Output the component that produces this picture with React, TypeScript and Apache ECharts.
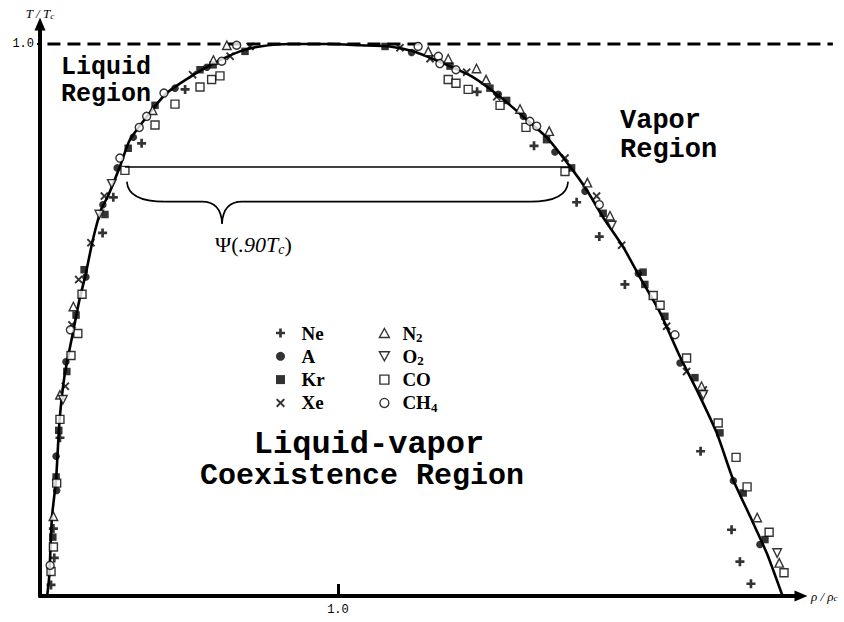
import React, { useEffect, useRef } from 'react';
import * as echarts from 'echarts';

// Axis ranges (rho / rho_c , T / T_c)
const X_MIN = 0;
const X_MAX = 2.554;
const Y_MIN = 0.55;
const Y_MAX = 1.0163;
const X_TICKS = [1.0];
const Y_TICKS = [1.0];

// Smooth coexistence curve [rho/rho_c, T/T_c]
const CURVE: number[][] = [
  [0.024, 0.55], [0.031, 0.566], [0.04, 0.614], [0.054, 0.645], [0.065, 0.691], [0.082, 0.729],
  [0.11, 0.764], [0.132, 0.791], [0.154, 0.813], [0.177, 0.84], [0.205, 0.865], [0.228, 0.876],
  [0.268, 0.9], [0.302, 0.922], [0.369, 0.944], [0.425, 0.96], [0.503, 0.973], [0.581, 0.984],
  [0.671, 0.994], [0.738, 0.998], [0.839, 1.0], [0.973, 1.0], [1.074, 0.999], [1.174, 0.998],
  [1.252, 0.994], [1.365, 0.983], [1.453, 0.973], [1.544, 0.957], [1.621, 0.941], [1.7, 0.924],
  [1.779, 0.9], [1.835, 0.881], [1.889, 0.859], [1.956, 0.835], [2.013, 0.81], [2.081, 0.781],
  [2.148, 0.745], [2.204, 0.718], [2.271, 0.683], [2.326, 0.645], [2.383, 0.615], [2.439, 0.585],
  [2.492, 0.55],
];

// Experimental points per substance
const NE: number[][] = [
  [0.246, 0.875], [0.21, 0.846], [0.067, 0.679], [0.045, 0.605], [0.048, 0.581], [0.037, 0.559],
  [0.341, 0.919], [0.487, 0.963], [1.467, 0.961], [1.658, 0.917], [1.801, 0.871], [1.877, 0.843],
  [1.963, 0.804], [2.217, 0.668], [2.321, 0.604], [2.349, 0.578], [2.386, 0.56],
];
const AR: number[][] = [
  [0.211, 0.869], [0.154, 0.81], [0.087, 0.741], [0.054, 0.664], [0.056, 0.636], [0.259, 0.899],
  [0.313, 0.924], [0.453, 0.964], [0.56, 0.981], [1.247, 0.993], [1.538, 0.959], [1.622, 0.941],
  [1.728, 0.912], [1.829, 0.88], [2.008, 0.813], [2.148, 0.74], [2.327, 0.644], [2.416, 0.592],
];
const KR: number[][] = [
  [0.218, 0.861], [0.148, 0.816], [0.121, 0.779], [0.09, 0.733], [0.063, 0.685], [0.054, 0.647],
  [0.043, 0.598], [0.296, 0.915], [0.386, 0.95], [0.537, 0.979], [0.581, 0.983], [0.688, 0.994],
  [1.158, 0.998], [1.376, 0.982], [1.51, 0.964], [1.566, 0.954], [1.7, 0.922], [1.784, 0.899],
  [1.89, 0.862], [2.024, 0.814], [2.03, 0.804], [2.097, 0.778], [2.198, 0.728], [2.282, 0.683],
  [2.36, 0.634], [2.433, 0.596],
];
const XE: number[][] = [
  [0.216, 0.876], [0.171, 0.838], [0.13, 0.808], [0.107, 0.771], [0.085, 0.721], [0.512, 0.975],
  [0.638, 0.99], [0.705, 0.998], [1.208, 0.997], [1.309, 0.988], [1.432, 0.977], [1.533, 0.957],
  [1.762, 0.907], [1.868, 0.876], [1.952, 0.836], [2.103, 0.77], [2.17, 0.733], [2.226, 0.718],
];
const N2: number[][] = [
  [0.112, 0.786], [0.067, 0.714], [0.045, 0.615], [0.378, 0.946], [0.582, 0.987], [0.627, 0.999],
  [1.303, 0.994], [1.37, 0.988], [1.465, 0.98], [1.497, 0.971], [1.611, 0.947], [1.709, 0.929],
  [1.837, 0.887], [1.913, 0.86], [2.22, 0.721], [2.407, 0.614], [2.481, 0.577],
];
const O2: number[][] = [
  [0.199, 0.861], [0.241, 0.886], [0.077, 0.71], [1.919, 0.852], [2.226, 0.714], [2.474, 0.585],
];
const CO: number[][] = [
  [0.141, 0.796], [0.127, 0.764], [0.104, 0.746], [0.067, 0.694], [0.056, 0.642], [0.045, 0.59],
  [0.037, 0.57], [0.285, 0.897], [0.386, 0.934], [0.453, 0.951], [0.537, 0.965], [0.576, 0.971],
  [0.604, 0.974], [1.37, 0.971], [1.396, 0.968], [1.437, 0.963], [1.544, 0.95], [1.631, 0.932],
  [1.762, 0.896], [2.058, 0.795], [2.081, 0.787], [2.17, 0.744], [2.276, 0.691], [2.336, 0.663],
  [2.373, 0.639], [2.447, 0.602], [2.497, 0.569],
];
const CH4: number[][] = [
  [0.102, 0.767], [0.034, 0.575], [0.268, 0.907], [0.333, 0.932], [0.358, 0.941], [0.416, 0.96],
  [0.61, 0.986], [0.66, 0.999], [1.269, 0.998], [1.337, 0.99], [1.342, 0.984], [1.396, 0.979],
  [1.644, 0.937], [1.667, 0.933], [1.877, 0.869], [2.131, 0.763],
];

const LEGEND_LEFT = ['Ne', 'A', 'Kr', 'Xe'];
const LEGEND_RIGHT = ['N2', 'O2', 'CO', 'CH4'];

// Reference lines / annotation anchors (data coordinates)
const DASH_T = 1.0;
const DASH_FROM = 0.025;
const DASH_TO = 2.661;
const PSI_T = 0.9;
const PSI_FROM = 0.285;
const PSI_TO = 1.779;
const PSI_TIP = 0.611;

const PLUS = 'path://M3.5,0H6.5V3.5H10V6.5H6.5V10H3.5V6.5H0V3.5H3.5Z';
const CROSS = 'path://M0,1.6L1.6,0L5,3.4L8.4,0L10,1.6L6.6,5L10,8.4L8.4,10L5,6.6L1.6,10L0,8.4L3.4,5Z';
const DOWN_TRI = 'path://M0,0L10,0L5,9Z';
const UP_TRI = 'path://M5,0L10,9L0,9Z';
const SQUARE = 'path://M0,0H10V10H0Z';

const SERIF = '"Liberation Serif", "Times New Roman", serif';
const MONO = '"Liberation Mono", "Courier New", monospace';

const filled = { color: '#000' };
const hollow = { color: '#fff', borderColor: '#000', borderWidth: 1.4 };

const SPECIES = [
  { name: 'Ne', data: NE, symbol: PLUS, size: 9, style: filled },
  { name: 'A', data: AR, symbol: 'circle', size: 7.5, style: filled },
  { name: 'Kr', data: KR, symbol: SQUARE, size: 7.5, style: filled },
  { name: 'Xe', data: XE, symbol: CROSS, size: 8.5, style: filled },
  { name: 'N2', data: N2, symbol: UP_TRI, size: 8.5, style: hollow },
  { name: 'O2', data: O2, symbol: DOWN_TRI, size: 8.5, style: hollow },
  { name: 'CO', data: CO, symbol: SQUARE, size: 8, style: hollow },
  { name: 'CH4', data: CH4, symbol: 'circle', size: 8, style: hollow },
];

const legendText = {
  fontFamily: SERIF,
  fontWeight: 'bold',
  fontSize: 19,
  color: '#000',
  lineHeight: 22,
  rich: {
    s: { fontFamily: SERIF, fontWeight: 'bold', fontSize: 13, lineHeight: 10, verticalAlign: 'bottom', color: '#000' },
  },
};
const legendFormatter = (name: string) => name.replace(/(\d)/, '{s|$1}');

function buildOption() {
  return {
    animation: false,
    backgroundColor: '#fff',
    grid: { left: 40, right: 43, top: 24, bottom: 26, containLabel: false, outerBoundsMode: 'none' },
    xAxis: {
      type: 'value',
      min: X_MIN,
      max: X_MAX,
      name: 'ρ / ρ{s|c}',
      nameLocation: 'end',
      nameGap: 10,
      nameTextStyle: {
        fontFamily: SERIF, fontStyle: 'italic', fontSize: 13, color: '#000',
        rich: { s: { fontFamily: SERIF, fontStyle: 'italic', fontSize: 9, lineHeight: 7, verticalAlign: 'bottom', color: '#000' } },
      },
      axisLine: { show: true, onZero: false, symbol: ['none', 'triangle'], symbolSize: [11, 13], lineStyle: { color: '#000', width: 4 } },
      axisTick: { show: true, inside: true, customValues: X_TICKS, length: 12, lineStyle: { color: '#000', width: 3 } },
      axisLabel: { show: true, customValues: X_TICKS, formatter: (v: number) => v.toFixed(1), fontFamily: MONO, fontSize: 12, color: '#000', margin: 8 },
      splitLine: { show: false },
    },
    yAxis: {
      type: 'value',
      min: Y_MIN,
      max: Y_MAX,
      name: 'T / T{s|c}',
      nameLocation: 'end',
      nameGap: 4,
      nameTextStyle: {
        fontFamily: SERIF, fontStyle: 'italic', fontSize: 13, color: '#000',
        rich: { s: { fontFamily: SERIF, fontStyle: 'italic', fontSize: 9, lineHeight: 7, verticalAlign: 'bottom', color: '#000' } },
      },
      axisLine: { show: true, onZero: false, symbol: ['none', 'triangle'], symbolSize: [11, 13], lineStyle: { color: '#000', width: 4 } },
      axisTick: { show: true, customValues: Y_TICKS, length: 3, lineStyle: { color: '#000', width: 2 } },
      axisLabel: { show: true, customValues: Y_TICKS, formatter: (v: number) => v.toFixed(1), fontFamily: MONO, fontSize: 12, color: '#000', margin: 6 },
      splitLine: { show: false },
    },
    legend: [
      {
        data: LEGEND_LEFT, orient: 'vertical', left: 276, top: 322, padding: 0,
        itemWidth: 32, itemHeight: 9, itemGap: 1.3, selectedMode: false,
        itemStyle: { borderWidth: 1.4 },
        formatter: legendFormatter, textStyle: legendText,
      },
      {
        data: LEGEND_RIGHT, orient: 'vertical', left: 378.7, top: 322, padding: 0,
        itemWidth: 26, itemHeight: 9, itemGap: 1.3, selectedMode: false,
        itemStyle: { borderWidth: 1.4 },
        formatter: legendFormatter, textStyle: legendText,
      },
    ],
    series: [
      {
        type: 'line',
        name: 'curve',
        data: CURVE,
        symbol: 'none',
        showSymbol: false,
        smooth: 0.2,
        clip: false,
        silent: true,
        z: 2,
        lineStyle: { color: '#000', width: 2.6 },
        markLine: {
          silent: true,
          animation: false,
          symbol: ['none', 'none'],
          label: { show: false },
          lineStyle: { color: '#000', type: 'solid', width: 1.5 },
          data: [
            [
              { coord: [PSI_FROM, PSI_T] },
              { coord: [PSI_TO, PSI_T] },
            ],
          ],
        },
      },
      ...SPECIES.map((s) => ({
        type: 'scatter',
        name: s.name,
        data: s.data,
        symbol: s.symbol,
        symbolSize: s.size,
        itemStyle: s.style,
        z: 3,
        silent: true,
      })),
    ],
  };
}

export default function App() {
  const ref = useRef<HTMLDivElement>(null);
  useEffect(() => {
    if (!ref.current) return;
    const chart = echarts.init(ref.current, null, { renderer: 'svg' });
    chart.setOption(buildOption() as any);

    const px = (p: number[]) => chart.convertToPixel({ gridIndex: 0 } as any, p) as number[];
    const [x1, y0] = px([PSI_FROM, PSI_T]);
    const [x2] = px([PSI_TO, PSI_T]);
    const [xt] = px([PSI_TIP, PSI_T]);
    const [dx1, dy] = px([DASH_FROM, DASH_T]);
    const [dx2] = px([DASH_TO, DASH_T]);

    const yEnd = y0 + 15;
    const yMid = y0 + 35;
    const yTip = y0 + 57;
    const st = { stroke: '#000', lineWidth: 1.6, fill: null };
    const brace = [
      { type: 'bezierCurve', shape: { x1: x1 + 2, y1: yEnd, x2: x1 + 40, y2: yMid, cpx1: x1 + 3, cpy1: yMid }, style: st },
      { type: 'line', shape: { x1: x1 + 40, y1: yMid, x2: xt - 20, y2: yMid }, style: st },
      { type: 'bezierCurve', shape: { x1: xt - 20, y1: yMid, x2: xt, y2: yTip, cpx1: xt - 1, cpy1: yMid }, style: st },
      { type: 'bezierCurve', shape: { x1: xt, y1: yTip, x2: xt + 20, y2: yMid, cpx1: xt + 1, cpy1: yMid }, style: st },
      { type: 'line', shape: { x1: xt + 20, y1: yMid, x2: x2 - 40, y2: yMid }, style: st },
      { type: 'bezierCurve', shape: { x1: x2 - 40, y1: yMid, x2: x2 - 2, y2: yEnd, cpx1: x2 - 3, cpy1: yMid }, style: st },
    ];

    const dashLine = {
      type: 'line',
      z: 1,
      shape: { x1: dx1, y1: dy, x2: dx2, y2: dy },
      style: { stroke: '#000', lineWidth: 2.8, lineDash: [13, 7], fill: null },
    };

    const line = (text: string, x: number, y: number, size: number, align = 'left') => ({
      type: 'text',
      x,
      y,
      style: { text, font: `bold ${size}px ${MONO}`, fill: '#000', align, verticalAlign: 'top' },
    });

    const texts = [
      line('Liquid', 61, 55, 25),
      line('Region', 61, 82, 25),
      line('Vapor', 620, 107, 27),
      line('Region', 620, 136, 27),
      line('Liquid-vapor', 369, 428, 32, 'center'),
      line('Coexistence Region', 362, 461, 30, 'center'),
      {
        type: 'text', x: xt - 7, y: y0 + 78,
        style: {
          text: '{n|Ψ(}{i|.90T}{s|c}{n|)}',
          align: 'left',
          verticalAlign: 'middle',
          fill: '#000',
          rich: {
            n: { fontFamily: SERIF, fontSize: 22, lineHeight: 24, fill: '#000' },
            i: { fontFamily: SERIF, fontStyle: 'italic', fontSize: 22, lineHeight: 24, fill: '#000' },
            s: { fontFamily: SERIF, fontStyle: 'italic', fontSize: 14, lineHeight: 8, verticalAlign: 'bottom', fill: '#000' },
          },
        },
      },
    ];

    chart.setOption({ graphic: [dashLine, ...texts, ...brace] } as any);
    return () => chart.dispose();
  }, []);
  return (
    <div
      ref={ref}
      style={{ position: 'absolute', left: 0, top: 0, width: 844, height: 622, background: '#fff' }}
    />
  );
}
